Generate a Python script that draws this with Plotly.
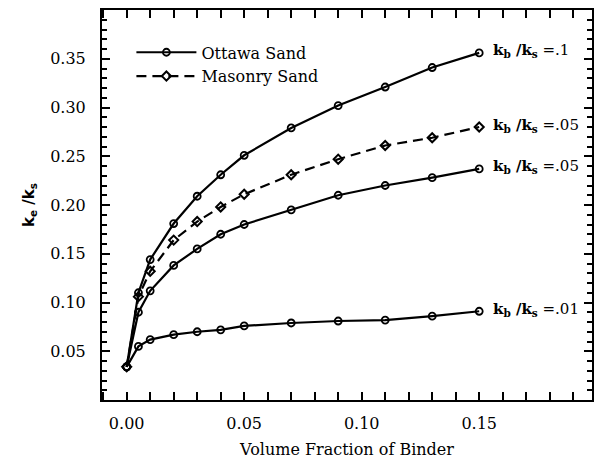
import plotly.graph_objects as go

# Volume fraction of binder (shared by all curves)
binder_fraction = [0.0, 0.005, 0.01, 0.02, 0.03, 0.04, 0.05, 0.07, 0.09, 0.11, 0.13, 0.15]

# Effective conductivity ratio k_e/k_s for each sand / binder ratio
ottawa_kb_01 = [0.034, 0.110, 0.144, 0.181, 0.209, 0.231, 0.251, 0.279, 0.302, 0.321, 0.341, 0.356]
masonry_kb_005 = [0.034, 0.106, 0.132, 0.164, 0.183, 0.198, 0.211, 0.231, 0.247, 0.261, 0.269, 0.280]
ottawa_kb_005 = [0.034, 0.090, 0.112, 0.138, 0.155, 0.170, 0.180, 0.195, 0.210, 0.220, 0.228, 0.237]
ottawa_kb_001 = [0.034, 0.055, 0.062, 0.067, 0.070, 0.072, 0.076, 0.079, 0.081, 0.082, 0.086, 0.091]

curve_labels = [".1", ".05", ".05", ".01"]

x_ticks = [0.0, 0.05, 0.10, 0.15]
y_ticks = [0.05, 0.10, 0.15, 0.20, 0.25, 0.30, 0.35]
y_range = [0.0, 0.40]

SERIF = "DejaVu Serif"
SANS = "DejaVu Sans"

fig = go.Figure()

solid_marker = dict(symbol="circle-open", size=7, color="black", line=dict(width=1.8, color="black"))
diamond_marker = dict(symbol="diamond-open", size=7, color="black", line=dict(width=2, color="black"))

fig.add_trace(go.Scatter(x=binder_fraction, y=ottawa_kb_01, mode="lines+markers", name="Ottawa Sand",
                         line=dict(color="black", width=2.2), marker=solid_marker, showlegend=True))
fig.add_trace(go.Scatter(x=binder_fraction, y=masonry_kb_005, mode="lines+markers", name="Masonry Sand",
                         line=dict(color="black", width=2.2, dash="10px,6px"), marker=diamond_marker, showlegend=True))
fig.add_trace(go.Scatter(x=binder_fraction, y=ottawa_kb_005, mode="lines+markers", name="Ottawa Sand",
                         line=dict(color="black", width=2.2), marker=solid_marker, showlegend=False))
# This curve lives on the overlaid y axis that carries the inward tick marks
fig.add_trace(go.Scatter(x=binder_fraction, y=ottawa_kb_001, mode="lines+markers", name="Ottawa Sand",
                         line=dict(color="black", width=2.2), marker=solid_marker, showlegend=False,
                         yaxis="y2"))

# Curve end labels
end_values = [ottawa_kb_01[-1], masonry_kb_005[-1], ottawa_kb_005[-1], ottawa_kb_001[-1]]
for val, lab in zip(end_values, curve_labels):
    fig.add_annotation(x=binder_fraction[-1], y=val, xref="x", yref="y",
                       text=f"<b>k<sub>b</sub> /k<sub>s</sub></b> ={lab}",
                       showarrow=False, xanchor="left", xshift=12, yshift=2,
                       font=dict(family=SERIF, size=15, color="black"))

tick_font = dict(family=SERIF, size=16, color="black")
minor_ticks = dict(ticks="inside", ticklen=5, tickwidth=1.5, tickcolor="black", dtick=0.01, tick0=0)

fig.update_layout(
    width=598, height=464,
    margin=dict(l=102, r=4, t=10, b=64),
    paper_bgcolor="white", plot_bgcolor="white",
    xaxis=dict(
        range=[-0.0105, 0.198], tickvals=x_ticks, tickformat=".2f", ticklabelstandoff=8,
        showline=True, linecolor="black", linewidth=2, mirror="allticks",
        ticks="inside", ticklen=8, tickwidth=2, tickcolor="black",
        minor=minor_ticks, showgrid=False, zeroline=False, tickfont=tick_font,
        title=dict(text="Volume Fraction of Binder", font=dict(family=SERIF, size=16, color="black"),
                   standoff=12),
    ),
    # Labelled y axis: transparent outside ticks give the labels their gap from the frame
    yaxis=dict(
        range=y_range, tickvals=y_ticks, tickformat=".2f",
        showline=True, linecolor="black", linewidth=2, mirror=True,
        ticks="outside", ticklen=11, tickwidth=1, tickcolor="rgba(0,0,0,0)",
        showgrid=False, zeroline=False, tickfont=tick_font,
        title=dict(text="<b>k<sub>e</sub> /k<sub>s</sub></b>", font=dict(family=SANS, size=15, color="black"),
                   standoff=12),
    ),
    # Overlaid y axis: inward major/minor ticks on both sides, no labels
    yaxis2=dict(
        range=y_range, tickvals=y_ticks, overlaying="y", side="left", anchor="x",
        showticklabels=False, showline=True, linecolor="black", linewidth=2, mirror="allticks",
        ticks="inside", ticklen=8, tickwidth=2, tickcolor="black",
        minor=minor_ticks, showgrid=False, zeroline=False,
    ),
    legend=dict(x=0.06, y=0.935, xanchor="left", yanchor="top",
                bgcolor="rgba(0,0,0,0)", font=dict(family=SERIF, size=16, color="black"),
                tracegroupgap=0, itemwidth=60),
)

fig.write_html("out.html")
